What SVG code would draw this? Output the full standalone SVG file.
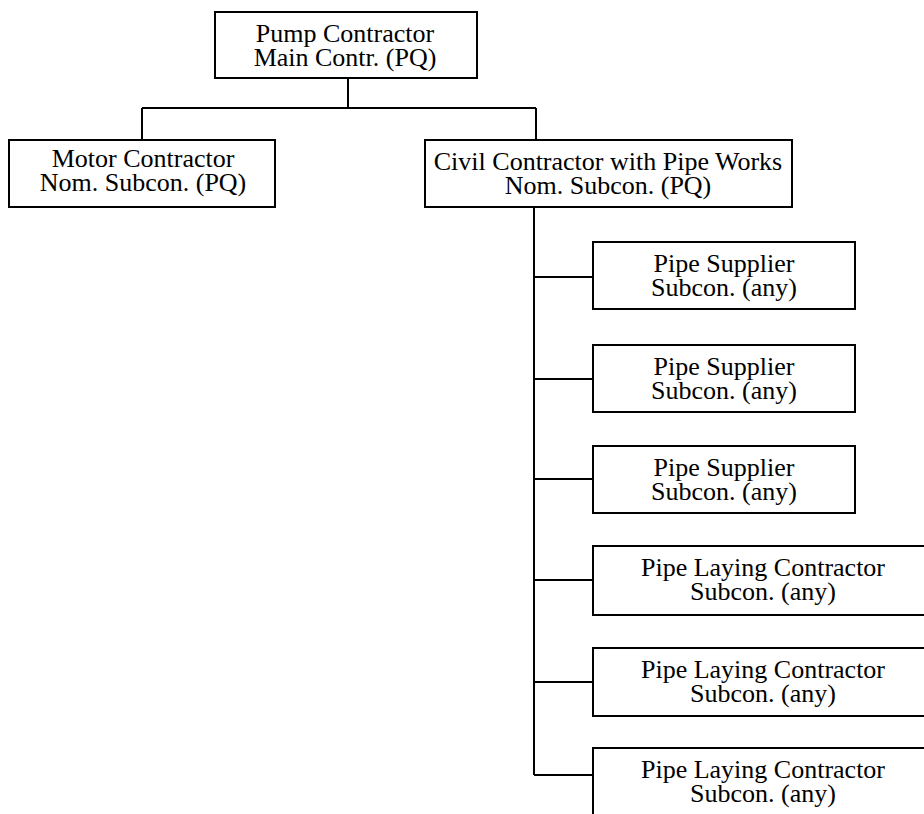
<svg xmlns="http://www.w3.org/2000/svg" width="924" height="814" viewBox="0 0 924 814">
  <style>
    .box { fill: #fff; stroke: #000; stroke-width: 2; }
    .lbl { font-family: "Liberation Serif", "Times New Roman", serif; font-size: 26px; fill: #000; text-anchor: middle; }
    .wire { fill: none; stroke: #000; stroke-width: 2; }
  </style>
  <rect width="924" height="814" fill="#fff"/>

  <!-- tree lines: top level, then the vertical trunk under the civil contractor -->
  <g id="connectors">
    <path class="wire" d="M348 78 V108 M142 108 H536 M142 108 V140 M536 108 V140"/>
    <path class="wire" d="M534 207 V775 M534 277 H593 M534 379 H593 M534 479 H593 M534 580 H593 M534 682 H593 M534 775 H593"/>
  </g>

  <g id="pump">
    <rect class="box" x="215" y="12" width="262" height="66"/>
    <text class="lbl" x="345" y="42">Pump Contractor</text>
    <text class="lbl" x="345" y="66">Main Contr. (PQ)</text>
  </g>

  <g id="motor">
    <rect class="box" x="9" y="140" width="266" height="67"/>
    <text class="lbl" x="143" y="167">Motor Contractor</text>
    <text class="lbl" x="143" y="191">Nom. Subcon. (PQ)</text>
  </g>

  <g id="civil">
    <rect class="box" x="425" y="140" width="367" height="67"/>
    <text class="lbl" x="608" y="170">Civil Contractor with Pipe Works</text>
    <text class="lbl" x="608" y="194">Nom. Subcon. (PQ)</text>
  </g>

  <g id="supplier1">
    <rect class="box" x="593" y="242" width="262" height="67"/>
    <text class="lbl" x="724" y="272">Pipe Supplier</text>
    <text class="lbl" x="724" y="296">Subcon. (any)</text>
  </g>
  <g id="supplier2">
    <rect class="box" x="593" y="345" width="262" height="67"/>
    <text class="lbl" x="724" y="375">Pipe Supplier</text>
    <text class="lbl" x="724" y="399">Subcon. (any)</text>
  </g>
  <g id="supplier3">
    <rect class="box" x="593" y="446" width="262" height="67"/>
    <text class="lbl" x="724" y="476">Pipe Supplier</text>
    <text class="lbl" x="724" y="500">Subcon. (any)</text>
  </g>

  <g id="layer1">
    <rect class="box" x="593" y="546" width="345" height="69"/>
    <text class="lbl" x="763" y="576">Pipe Laying Contractor</text>
    <text class="lbl" x="763" y="600">Subcon. (any)</text>
  </g>
  <g id="layer2">
    <rect class="box" x="593" y="648" width="345" height="68"/>
    <text class="lbl" x="763" y="678">Pipe Laying Contractor</text>
    <text class="lbl" x="763" y="702">Subcon. (any)</text>
  </g>
  <g id="layer3">
    <rect class="box" x="593" y="748" width="345" height="80"/>
    <text class="lbl" x="763" y="778">Pipe Laying Contractor</text>
    <text class="lbl" x="763" y="802">Subcon. (any)</text>
  </g>
</svg>
